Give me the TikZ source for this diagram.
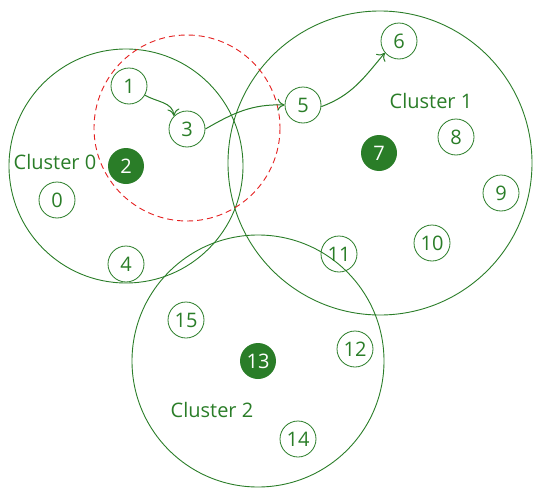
\documentclass[tikz,border=0pt]{standalone}
\usepackage{fontspec}
\setmainfont{Open Sans}
\usetikzlibrary{arrows.meta}
\definecolor{gr}{RGB}{42,125,40}
\definecolor{rd}{RGB}{228,32,32}
\begin{document}
\begin{tikzpicture}[x=1pt,y=-1pt,
  cluster/.style={draw=gr,line width=0.9pt},
  pt/.style={circle,draw=gr,line width=0.8pt,minimum size=36pt,inner sep=0pt,text=gr,font=\fontsize{20}{20}\selectfont},
  cent/.style={circle,fill=gr,minimum size=36pt,inner sep=0pt,text=white,font=\fontsize{20}{20}\selectfont},
  lab/.style={text=gr,font=\fontsize{20}{20}\selectfont,inner sep=0pt},
  arr/.style={draw=gr,line width=1pt,-{To[length=7pt,width=12pt]}}]
\useasboundingbox (0,0) rectangle (539,498);
% clusters
\draw[cluster] (126,166) circle (117);
\draw[cluster] (380,163) circle (152);
\draw[cluster] (258,361) circle (126);
\draw[draw=rd,line width=0.9pt,dash pattern=on 6pt off 4pt] (187,128) circle (93);
% nodes
\node[pt] (n0) at (57,200) {0};
\node[pt] (n1) at (129,86) {1};
\node[cent] (n2) at (126,166) {2};
\node[pt] (n3) at (187,129) {3};
\node[pt] (n4) at (126,264) {4};
\node[pt] (n5) at (303,105) {5};
\node[pt] (n6) at (399,41) {6};
\node[cent] (n7) at (379,153) {7};
\node[pt] (n8) at (456,137) {8};
\node[pt] (n9) at (501,193) {9};
\node[pt] (n10) at (432,243) {10};
\node[pt] (n11) at (339,254) {11};
\node[pt] (n12) at (355,349) {12};
\node[cent] (n13) at (258,361) {13};
\node[pt] (n14) at (298,439) {14};
\node[pt] (n15) at (186,320) {15};
% labels
\node[lab] (l0) at (55,162) {Cluster 0};
\node[lab] (l1) at (431,101) {Cluster 1};
\node[lab] (l2) at (212,410) {Cluster 2};
% arrows
\draw[arr] (n1.-30) to[out=-30,in=95] (n3.135);
\draw[arr] (n3.east) to[out=30,in=178] (n5.west);
\draw[arr] (n5.-5) to[out=20,in=-130] (n6.-140);
\end{tikzpicture}
\end{document}
